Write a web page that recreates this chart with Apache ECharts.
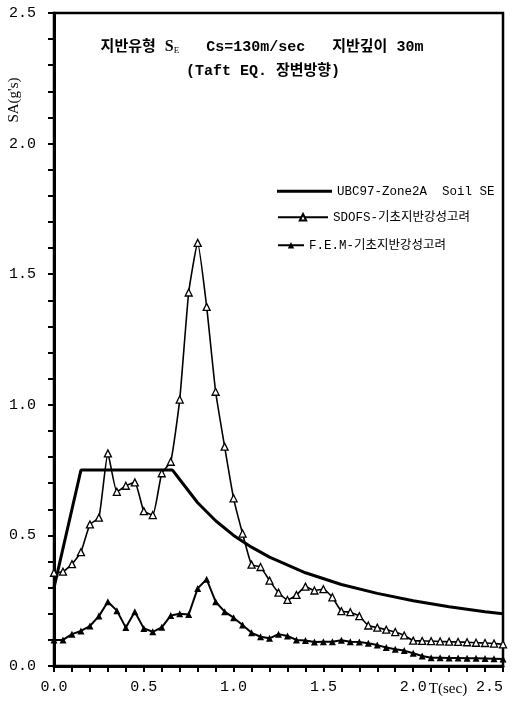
<!DOCTYPE html>
<html><head><meta charset="utf-8">
<script src="https://cdn.jsdelivr.net/npm/echarts@6/dist/echarts.min.js"></script>
<style>html,body{margin:0;padding:0;background:#fff}#c{width:513px;height:704px}</style>
</head><body><div id="c"></div>
<script>
// ---- data ----
const periods = [0.00,0.05,0.10,0.15,0.20,0.25,0.30,0.35,0.40,0.45,0.50,0.55,0.60,0.65,0.70,0.75,0.80,0.85,0.90,0.95,
  1.00,1.05,1.10,1.15,1.20,1.25,1.30,1.35,1.40,1.45,1.50,1.55,1.60,1.65,1.70,1.75,1.80,1.85,1.90,1.95,
  2.00,2.05,2.10,2.15,2.20,2.25,2.30,2.35,2.40,2.45,2.50];
const sdofsSA = [0.357,0.361,0.390,0.436,0.542,0.568,0.814,0.667,0.690,0.703,0.593,0.578,0.738,0.782,1.020,1.430,1.620,1.375,1.050,0.840,
  0.642,0.507,0.388,0.379,0.327,0.281,0.253,0.272,0.304,0.289,0.294,0.263,0.210,0.206,0.191,0.155,0.147,0.139,0.130,0.117,
  0.097,0.096,0.095,0.094,0.093,0.092,0.091,0.089,0.088,0.086,0.083];
const femSA = [0.100,0.100,0.122,0.134,0.153,0.191,0.246,0.212,0.147,0.208,0.144,0.131,0.148,0.193,0.200,0.197,0.297,0.332,0.246,0.208,
  0.185,0.157,0.127,0.112,0.106,0.122,0.115,0.100,0.098,0.092,0.093,0.093,0.099,0.093,0.092,0.087,0.080,0.071,0.064,0.059,
  0.049,0.038,0.032,0.032,0.031,0.031,0.030,0.030,0.029,0.028,0.027];
const ubcT  = [0.00,0.15,0.66,0.70,0.80,0.90,1.00,1.10,1.20,1.40,1.60,1.80,2.00,2.20,2.40,2.50];
const ubcSA = [0.30,0.75,0.75,0.714,0.625,0.556,0.500,0.455,0.417,0.357,0.312,0.278,0.250,0.227,0.208,0.200];
const xTickLabels = ['0.0','0.5','1.0','1.5','2.0','2.5'];
const yTickLabels = ['0.0','0.5','1.0','1.5','2.0','2.5'];
const seriesNames = ['UBC97-Zone2A  Soil SE','SDOFS-기초지반강성고려','F.E.M-기초지반강성고려'];
const xName = 'T(sec)';
const yName = "SA(g's)";

// ---- chart ----
const mono = "'Liberation Mono','Noto Sans CJK KR',monospace";
const serif = "'Liberation Serif','Noto Sans CJK KR',serif";
const chart = echarts.init(document.getElementById('c'), null, {renderer:'canvas'});
const pairs = (xs, ys) => xs.map((x,i)=>[x, ys[i]]);
const legendText = {color:'#000', fontFamily:mono, fontSize:12.5};

chart.setOption({
  animation:false,
  backgroundColor:'#fff',
  grid:{left:54,right:10,top:13,bottom:38,show:true,borderColor:'#000',borderWidth:2.5,backgroundColor:'transparent'},
  xAxis:{type:'value',min:0,max:2.5,interval:0.5,
    axisLine:{onZero:false,lineStyle:{color:'#000',width:3}},
    axisTick:{show:true,inside:false,length:6,lineStyle:{color:'#000',width:2}},
    minorTick:{show:true,splitNumber:5,length:6,lineStyle:{color:'#000',width:2}},
    splitLine:{show:false},
    axisLabel:{color:'#000',fontFamily:mono,fontSize:15,margin:14,alignMaxLabel:'right',
      formatter:v=>xTickLabels[Math.round(v/0.5)]}},
  yAxis:{type:'value',min:0,max:2.5,interval:0.5,
    axisLine:{onZero:false,lineStyle:{color:'#000',width:3}},
    axisTick:{show:true,inside:false,length:6,lineStyle:{color:'#000',width:2}},
    minorTick:{show:true,splitNumber:5,length:6,lineStyle:{color:'#000',width:2}},
    splitLine:{show:false},
    axisLabel:{color:'#000',fontFamily:mono,fontSize:15,margin:18,
      formatter:v=>yTickLabels[Math.round(v/0.5)]}},
  legend:[
    {data:[{name:seriesNames[0],icon:'rect'}],left:272,top:180,itemWidth:55,itemHeight:3,textStyle:legendText},
    {data:[seriesNames[1]],left:272,top:206,itemWidth:50,itemHeight:8,textStyle:legendText},
    {data:[seriesNames[2]],left:272,top:234,itemWidth:26,itemHeight:8,textStyle:legendText}
  ],
  graphic:[
    {type:'text',x:262,y:47,style:{
      text:'{k|지반유형 }{s|S}{e|E}{k|   Cs=130m/sec   지반깊이 30m}',
      align:'center',verticalAlign:'middle',
      rich:{k:{fontFamily:mono,fontSize:15,fontWeight:'bold',fill:'#000'},
            s:{fontFamily:serif,fontSize:16,fontWeight:'bold',fill:'#000'},
            e:{fontFamily:serif,fontSize:9,fill:'#000',verticalAlign:'bottom',padding:[6,0,0,0]}}}},
    {type:'text',x:263,y:71,style:{text:'(Taft EQ. 장변방향)',font:"bold 15px 'Liberation Mono','Noto Sans CJK KR'",
      fill:'#000',align:'center',verticalAlign:'middle'}},
    {type:'text',x:14,y:100,rotation:Math.PI/2,style:{text:yName,font:"15px 'Liberation Serif'",
      fill:'#000',align:'center',verticalAlign:'middle'}},
    {type:'text',x:448,y:689,style:{text:xName,font:"15px 'Liberation Serif'",
      fill:'#000',align:'center',verticalAlign:'middle'}}
  ],
  series:[
    {name:seriesNames[0],type:'line',data:pairs(ubcT,ubcSA),symbol:'none',
      lineStyle:{color:'#000',width:3},itemStyle:{color:'#000'},z:3},
    {name:seriesNames[1],type:'line',data:pairs(periods,sdofsSA),symbol:'triangle',symbolSize:7,smooth:0.15,
      lineStyle:{color:'#000',width:1.6},itemStyle:{color:'#fff',borderColor:'#000',borderWidth:1.3},z:4},
    {name:seriesNames[2],type:'line',data:pairs(periods,femSA),symbol:'triangle',symbolSize:7,
      lineStyle:{color:'#000',width:2},itemStyle:{color:'#000'},z:4}
  ]
});
</script></body></html>
